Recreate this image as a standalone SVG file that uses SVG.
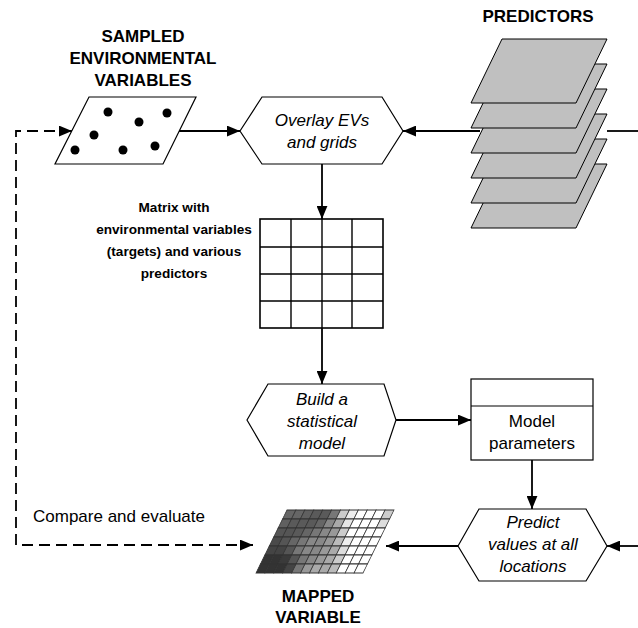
<svg xmlns="http://www.w3.org/2000/svg" width="638" height="628" viewBox="0 0 638 628">
<style>
.title{font-family:"Liberation Sans",Arial,sans-serif;font-weight:bold;font-size:17px;text-anchor:middle;fill:#000}
.lbl{font-family:"Liberation Sans",Arial,sans-serif;font-weight:bold;font-size:13.6px;text-anchor:middle;fill:#000}
.it{font-family:"Liberation Sans",Arial,sans-serif;font-style:italic;font-size:17px;text-anchor:middle;fill:#000}
.rg{font-family:"Liberation Sans",Arial,sans-serif;font-size:17px;fill:#000}
.shape{fill:#fff;stroke:#000;stroke-width:1.2}
.layer{fill:#c0c0c0;stroke:#000;stroke-width:1}
.conn{fill:none;stroke:#000;stroke-width:1.8}
.dash{fill:none;stroke:#000;stroke-width:1.8;stroke-dasharray:11 6}
.grid{stroke:#000;stroke-width:1.4;fill:none}
</style>
<defs>
<marker id="arr" viewBox="0 0 12 10" refX="12" refY="5" markerWidth="13" markerHeight="11" markerUnits="userSpaceOnUse" orient="auto-start-reverse">
<path d="M0,0 L12,5 L0,10 Z" fill="#000"/>
</marker>
</defs>

<g id="connectors">
<path class="conn" d="M179,131 H240" marker-end="url(#arr)"/>
<path class="conn" d="M480,131 H403" marker-end="url(#arr)"/>
<path class="conn" d="M607,131 H638"/>
<path class="conn" d="M322,164 V219" marker-end="url(#arr)"/>
<path class="conn" d="M322,328 V384" marker-end="url(#arr)"/>
<path class="conn" d="M396,420 H471" marker-end="url(#arr)"/>
<path class="conn" d="M532,460 V509" marker-end="url(#arr)"/>
<path class="conn" d="M638,546 H607" marker-end="url(#arr)"/>
<path class="conn" d="M458,546 H386" marker-end="url(#arr)"/>
<path class="dash" d="M72,131 H16 V545 H253" marker-start="url(#arr)" marker-end="url(#arr)"/>
<text class="rg" x="33" y="522">Compare and evaluate</text>
</g>

<g id="sampled">
<text class="title" x="143" y="42">SAMPLED</text>
<text class="title" x="143" y="64">ENVIRONMENTAL</text>
<text class="title" x="143" y="86">VARIABLES</text>
<polygon class="shape" points="89,97 196,97 163,164 55,164"/>
<g fill="#000">
<circle cx="108" cy="112" r="4.5"/>
<circle cx="167" cy="113" r="4.5"/>
<circle cx="139" cy="122" r="4.5"/>
<circle cx="94" cy="135" r="4.5"/>
<circle cx="75" cy="150" r="4.5"/>
<circle cx="123" cy="150" r="4.5"/>
<circle cx="155" cy="146" r="4.5"/>
</g>
</g>

<g id="overlay">
<polygon class="shape" points="240,131 262,97 382,97 403,131 382,164 262,164"/>
<text class="it" x="322" y="126">Overlay EVs</text>
<text class="it" x="322" y="148">and grids</text>
</g>

<g id="predictors">
<text class="title" x="538" y="22">PREDICTORS</text>
<polygon class="layer" points="502,164 607,164 576,228 471,228"/>
<polygon class="layer" points="502,139 607,139 576,203 471,203"/>
<polygon class="layer" points="502,114 607,114 576,178 471,178"/>
<polygon class="layer" points="502,89 607,89 576,153 471,153"/>
<polygon class="layer" points="502,64 607,64 576,128 471,128"/>
<polygon class="layer" points="502,39 607,39 576,103 471,103"/>
</g>

<g id="matrix">
<text class="lbl" x="174" y="212">Matrix with</text>
<text class="lbl" x="174" y="234">environmental variables</text>
<text class="lbl" x="174" y="256">(targets) and various</text>
<text class="lbl" x="174" y="278">predictors</text>
<rect x="260" y="219" width="123" height="109" fill="#fff" stroke="#000" stroke-width="1.6"/>
<path class="grid" d="M291,219 V328 M322,219 V328 M352,219 V328 M260,247 H383 M260,274 H383 M260,301 H383"/>
</g>

<g id="build">
<polygon class="shape" points="247,420 268,384 384,384 396,420 384,456 268,456"/>
<text class="it" x="322" y="405">Build a</text>
<text class="it" x="322" y="427">statistical</text>
<text class="it" x="322" y="449">model</text>
</g>

<g id="model">
<rect class="shape" x="471" y="379" width="122" height="81"/>
<line x1="471" y1="406" x2="593" y2="406" stroke="#000" stroke-width="1.2"/>
<text class="rg" x="532" y="427" text-anchor="middle">Model</text>
<text class="rg" x="532" y="449" text-anchor="middle">parameters</text>
</g>

<g id="predict">
<polygon class="shape" points="458,546 479,509 586,509 607,546 586,581 479,581"/>
<text class="it" x="533" y="528">Predict</text>
<text class="it" x="533" y="550">values at all</text>
<text class="it" x="533" y="572">locations</text>
</g>

<g id="mapped">
<g transform="translate(287,510) skewX(-26.2)" stroke="#333">
<g transform="scale(8.917,9)" stroke-width="0.09">
<rect x="0" y="0" width="1" height="1" fill="#666"/><rect x="1" y="0" width="1" height="1" fill="#666"/><rect x="2" y="0" width="1" height="1" fill="#606060"/><rect x="3" y="0" width="1" height="1" fill="#5a5a5a"/><rect x="4" y="0" width="1" height="1" fill="#5a5a5a"/><rect x="5" y="0" width="1" height="1" fill="#777"/><rect x="6" y="0" width="1" height="1" fill="#ccc"/><rect x="7" y="0" width="1" height="1" fill="#eee"/><rect x="8" y="0" width="1" height="1" fill="#fff"/><rect x="9" y="0" width="1" height="1" fill="#fff"/><rect x="10" y="0" width="1" height="1" fill="#fff"/><rect x="11" y="0" width="1" height="1" fill="#ccc"/>
<rect x="0" y="1" width="1" height="1" fill="#606060"/><rect x="1" y="1" width="1" height="1" fill="#5a5a5a"/><rect x="2" y="1" width="1" height="1" fill="#5a5a5a"/><rect x="3" y="1" width="1" height="1" fill="#5a5a5a"/><rect x="4" y="1" width="1" height="1" fill="#666"/><rect x="5" y="1" width="1" height="1" fill="#888"/><rect x="6" y="1" width="1" height="1" fill="#aaa"/><rect x="7" y="1" width="1" height="1" fill="#e6e6e6"/><rect x="8" y="1" width="1" height="1" fill="#fff"/><rect x="9" y="1" width="1" height="1" fill="#fff"/><rect x="10" y="1" width="1" height="1" fill="#fff"/><rect x="11" y="1" width="1" height="1" fill="#ddd"/>
<rect x="0" y="2" width="1" height="1" fill="#555"/><rect x="1" y="2" width="1" height="1" fill="#555"/><rect x="2" y="2" width="1" height="1" fill="#5a5a5a"/><rect x="3" y="2" width="1" height="1" fill="#666"/><rect x="4" y="2" width="1" height="1" fill="#777"/><rect x="5" y="2" width="1" height="1" fill="#888"/><rect x="6" y="2" width="1" height="1" fill="#999"/><rect x="7" y="2" width="1" height="1" fill="#ccc"/><rect x="8" y="2" width="1" height="1" fill="#fff"/><rect x="9" y="2" width="1" height="1" fill="#fff"/><rect x="10" y="2" width="1" height="1" fill="#fff"/><rect x="11" y="2" width="1" height="1" fill="#fff"/>
<rect x="0" y="3" width="1" height="1" fill="#4a4a4a"/><rect x="1" y="3" width="1" height="1" fill="#555"/><rect x="2" y="3" width="1" height="1" fill="#666"/><rect x="3" y="3" width="1" height="1" fill="#777"/><rect x="4" y="3" width="1" height="1" fill="#888"/><rect x="5" y="3" width="1" height="1" fill="#888"/><rect x="6" y="3" width="1" height="1" fill="#999"/><rect x="7" y="3" width="1" height="1" fill="#bbb"/><rect x="8" y="3" width="1" height="1" fill="#eee"/><rect x="9" y="3" width="1" height="1" fill="#fff"/><rect x="10" y="3" width="1" height="1" fill="#fff"/><rect x="11" y="3" width="1" height="1" fill="#fff"/>
<rect x="0" y="4" width="1" height="1" fill="#444"/><rect x="1" y="4" width="1" height="1" fill="#444"/><rect x="2" y="4" width="1" height="1" fill="#555"/><rect x="3" y="4" width="1" height="1" fill="#777"/><rect x="4" y="4" width="1" height="1" fill="#888"/><rect x="5" y="4" width="1" height="1" fill="#888"/><rect x="6" y="4" width="1" height="1" fill="#999"/><rect x="7" y="4" width="1" height="1" fill="#aaa"/><rect x="8" y="4" width="1" height="1" fill="#ddd"/><rect x="9" y="4" width="1" height="1" fill="#fff"/><rect x="10" y="4" width="1" height="1" fill="#fff"/><rect x="11" y="4" width="1" height="1" fill="#fff"/>
<rect x="0" y="5" width="1" height="1" fill="#333"/><rect x="1" y="5" width="1" height="1" fill="#333"/><rect x="2" y="5" width="1" height="1" fill="#3a3a3a"/><rect x="3" y="5" width="1" height="1" fill="#555"/><rect x="4" y="5" width="1" height="1" fill="#777"/><rect x="5" y="5" width="1" height="1" fill="#888"/><rect x="6" y="5" width="1" height="1" fill="#999"/><rect x="7" y="5" width="1" height="1" fill="#aaa"/><rect x="8" y="5" width="1" height="1" fill="#ccc"/><rect x="9" y="5" width="1" height="1" fill="#fff"/><rect x="10" y="5" width="1" height="1" fill="#fff"/><rect x="11" y="5" width="1" height="1" fill="#fff"/>
<rect x="0" y="6" width="1" height="1" fill="#333"/><rect x="1" y="6" width="1" height="1" fill="#333"/><rect x="2" y="6" width="1" height="1" fill="#333"/><rect x="3" y="6" width="1" height="1" fill="#444"/><rect x="4" y="6" width="1" height="1" fill="#777"/><rect x="5" y="6" width="1" height="1" fill="#999"/><rect x="6" y="6" width="1" height="1" fill="#aaa"/><rect x="7" y="6" width="1" height="1" fill="#aaa"/><rect x="8" y="6" width="1" height="1" fill="#bbb"/><rect x="9" y="6" width="1" height="1" fill="#fff"/><rect x="10" y="6" width="1" height="1" fill="#fff"/><rect x="11" y="6" width="1" height="1" fill="#fff"/>
</g>
</g>
<text class="title" x="318" y="602">MAPPED</text>
<text class="title" x="318" y="623">VARIABLE</text>
</g>
</svg>
